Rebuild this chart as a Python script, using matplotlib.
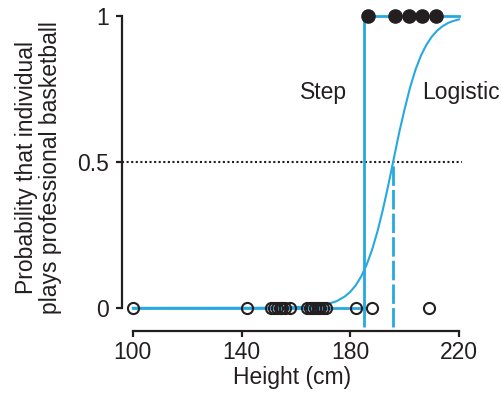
import matplotlib
matplotlib.use("Agg")
import matplotlib.pyplot as plt

plt.rcParams['font.family'] = ['Liberation Sans', 'DejaVu Sans']

# heights (cm) of individuals who do not / do play professional basketball
heights_no = [100, 142, 151, 152, 153, 154, 155, 156, 158,
              164, 165, 166, 167, 168, 169, 170, 171, 182, 188, 209]
heights_yes = [186.5, 196.5, 201.5, 206.5, 211.5]

# step model threshold and logistic model midpoint
step_threshold = 185
logistic_mid = 195.8

# logistic curve
curve_x = [100, 150, 165, 170, 172, 175, 178, 180, 182, 184, 186, 188, 190, 192,
           194, 196, 198, 200, 202, 204, 206, 208, 210, 212, 214, 216, 218, 220]
curve_p = [0.0, 0.0003, 0.004, 0.009, 0.014, 0.023, 0.039, 0.055, 0.077, 0.107,
           0.147, 0.198, 0.261, 0.336, 0.42, 0.51, 0.60, 0.68, 0.754, 0.815,
           0.863, 0.90, 0.928, 0.949, 0.964, 0.975, 0.982, 0.987]

xticks = [100, 140, 180, 220]
yticks = [0, 0.5, 1]
yticklabels = ['0', '0.5', '1']

BLUE = '#27a8e0'
INK = '#231f20'

fig = plt.figure(figsize=(5.02, 3.94), dpi=100)
ax = fig.add_axes([0.243, 0.16, 0.6767, 0.8226])
ax.set_xlim(96, 221)
ax.set_ylim(-0.079, 1.03)

# 0.5 reference line
ax.axhline(0.5, color=INK, linestyle=(0, (1, 1.2)), linewidth=1.5, zorder=1)

# step model
ax.plot([100, step_threshold], [0, 0], color=BLUE, linewidth=2, zorder=2)
ax.plot([step_threshold, 220], [1, 1], color=BLUE, linewidth=2, zorder=2)
ax.vlines(step_threshold, -0.065, 1, color=BLUE, linewidth=2, zorder=2)

# logistic model
ax.plot(curve_x, curve_p, color=BLUE, linewidth=1.5, zorder=2)
ax.vlines(logistic_mid, -0.065, 0.5, color=BLUE, linewidth=2,
          linestyles=(0, (7, 1.5)), zorder=2)

# data points
ax.plot(heights_no, [0] * len(heights_no), 'o', markersize=8,
        markerfacecolor='none', markeredgecolor=INK, markeredgewidth=1.5, zorder=3)
ax.plot(heights_yes, [1] * len(heights_yes), 'o', markersize=9.5,
        color=INK, zorder=3)

ax.text(161.5, 0.736, 'Step', fontsize=16.5, color=INK, va='center', ha='left')
ax.text(206.4, 0.736, 'Logistic', fontsize=16.5, color=INK, va='center', ha='left',
        clip_on=False)

for s in ['top', 'right']:
    ax.spines[s].set_visible(False)
ax.spines['left'].set_bounds(0, 1)
ax.spines['bottom'].set_bounds(100, 220)
for s in ['left', 'bottom']:
    ax.spines[s].set_linewidth(1.6)
    ax.spines[s].set_color(INK)

ax.set_xticks(xticks)
ax.set_yticks(yticks)
ax.set_yticklabels(yticklabels)
ax.tick_params(axis='both', direction='out', length=4, width=1.6, color=INK,
               labelsize=16.5, labelcolor=INK)
ax.tick_params(axis='y', pad=5.5)
ax.tick_params(axis='x', pad=3)

ax.set_xlabel('Height (cm)', fontsize=16.5, color=INK, labelpad=2)
fig.text(0.076, 0.574, 'Probability that individual\nplays professional basketball',
         rotation=90, fontsize=16.5, color=INK, ha='center', va='center',
         multialignment='center', linespacing=1.05)

fig.savefig('out.png', dpi=100)
